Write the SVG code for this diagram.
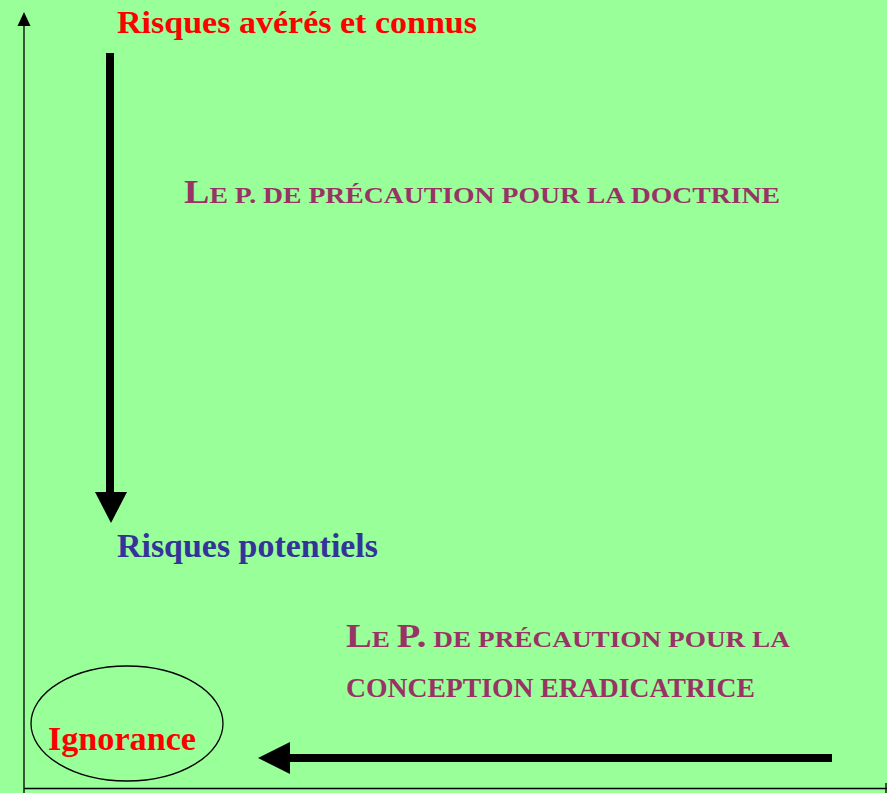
<svg xmlns="http://www.w3.org/2000/svg" width="887" height="793" viewBox="0 0 887 793">
<style>
text{font-family:"Liberation Serif","Times New Roman",serif;font-weight:bold}
.red{fill:#FF0000}
.blue{fill:#333399}
.pur{fill:#993366}
.axis{stroke:#000;stroke-width:1.3;fill:none}
.big{stroke:#000;stroke-width:8;fill:none}
</style>
<rect width="887" height="793" fill="#99FF99"/>
<g id="axes">
<line class="axis" x1="24" y1="22" x2="24" y2="793"/>
<polygon points="24,12 17.5,26 30.5,26" fill="#000"/>
<line class="axis" x1="24" y1="788.5" x2="887" y2="788.5"/>
<line class="axis" x1="886" y1="783" x2="886" y2="793"/>
</g>
<g id="connectors">
<line class="big" x1="110" y1="53" x2="110" y2="494"/>
<polygon points="95,492 127,492 111,523" fill="#000"/>
<line class="big" x1="832" y1="758" x2="288" y2="758"/>
<polygon points="258,758 290,742 290,774" fill="#000"/>
</g>
<g id="n-connus">
<text class="red" x="117" y="33" font-size="32" textLength="360" lengthAdjust="spacingAndGlyphs">Risques avérés et connus</text>
</g>
<g id="n-doctrine">
<text class="pur" x="184" y="203" font-size="24" textLength="596" lengthAdjust="spacingAndGlyphs"><tspan font-size="33">L</tspan>E P. DE PRÉCAUTION POUR LA DOCTRINE</text>
</g>
<g id="n-potentiels">
<text class="blue" x="117" y="557" font-size="33" textLength="261" lengthAdjust="spacingAndGlyphs">Risques potentiels</text>
</g>
<g id="n-eradicatrice">
<text class="pur" x="346" y="647" font-size="24" textLength="444" lengthAdjust="spacingAndGlyphs"><tspan font-size="34">L</tspan>E <tspan font-size="34">P.</tspan> DE PRÉCAUTION POUR LA</text>
<text class="pur" x="346" y="697" font-size="28" textLength="409" lengthAdjust="spacingAndGlyphs">CONCEPTION ERADICATRICE</text>
</g>
<g id="n-ignorance">
<ellipse cx="127" cy="723.5" rx="96" ry="57.5" fill="none" stroke="#000" stroke-width="1.3"/>
<text class="red" x="48" y="750" font-size="34" textLength="148" lengthAdjust="spacingAndGlyphs">Ignorance</text>
</g>
</svg>
